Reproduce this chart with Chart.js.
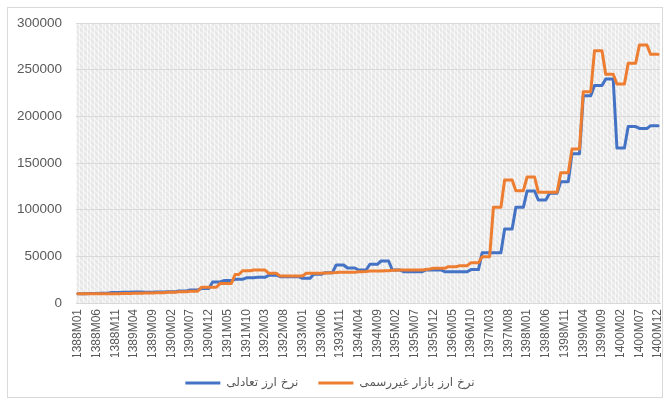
<!DOCTYPE html>
<html>
<head>
<meta charset="utf-8">
<script src="https://cdn.jsdelivr.net/npm/chart.js@4.4.1/dist/chart.umd.min.js"></script>
<style>
  html, body { margin: 0; padding: 0; background: #fff; }
  #wrap { width: 667px; height: 404px; }
</style>
</head>
<body>
<div id="wrap"><canvas id="chart" width="667" height="404"></canvas></div>
<script>
// سال‌ها و ماه‌ها (برچسب محور افقی: 1388M01 ... 1400M12)
const years = [1388, 1389, 1390, 1391, 1392, 1393, 1394, 1395, 1396, 1397, 1398, 1399, 1400];
const months = ["01", "02", "03", "04", "05", "06", "07", "08", "09", "10", "11", "12"];
const labels = [];
for (const y of years) for (const m of months) labels.push(y + "M" + m);

const seriesNames = ["نرخ ارز تعادلی", "نرخ ارز بازار غیررسمی"];

// نرخ ارز تعادلی
const equilibrium = [
  10000, 10000, 10000, 10200, 10200, 10200, 10500, 10500, 10500, 11200, 11200, 11200,
  11500, 11500, 11500, 11800, 11800, 11800, 11500, 11500, 11500, 11700, 11700, 11700,
  12000, 12000, 12000, 12800, 12800, 12800, 14000, 14000, 14000, 15500, 15500, 15500,
  22500, 22500, 22500, 24000, 24000, 24000, 25400, 25400, 25400, 27000, 27000, 27000,
  27500, 27500, 27500, 29800, 29800, 29800, 28200, 28200, 28200, 28200, 28200, 28200,
  26400, 26400, 26400, 30700, 30700, 30700, 32500, 32500, 32500, 40700, 40700, 40700,
  37500, 37500, 37500, 35400, 35400, 35400, 41500, 41500, 41500, 45000, 45000, 45000,
  35400, 35400, 35400, 33500, 33500, 33500, 33500, 33500, 33500, 35400, 35400, 35400,
  35400, 35400, 33500, 33500, 33500, 33500, 33500, 33500, 33500, 35800, 35800, 35800,
  53900, 53900, 53900, 53900, 53900, 53900, 79300, 79300, 79300, 102500, 102500, 102500,
  120000, 120000, 120000, 110400, 110400, 110400, 117500, 117500, 117500, 130000, 130000, 130000,
  160000, 160000, 160000, 222000, 222000, 222000, 233000, 233000, 233000, 240000, 240000, 240000,
  166000, 166000, 166000, 189000, 189000, 189000, 187000, 187000, 187000, 190000, 190000, 190000
];

// نرخ ارز بازار غیررسمی
const informal = [
  10000, 10000, 10000, 10000, 10000, 10000, 10000, 10000, 10000, 10000, 10000, 10000,
  10300, 10300, 10300, 10500, 10500, 10500, 10700, 10700, 10700, 11000, 11000, 11000,
  11500, 11500, 11500, 12000, 12000, 12000, 12500, 12500, 12500, 16800, 16800, 16800,
  16800, 16800, 21000, 21000, 21000, 21000, 30500, 30500, 34500, 34500, 34500, 35300,
  35300, 35300, 35300, 31800, 31800, 31800, 29000, 29000, 29000, 29000, 29000, 29000,
  29000, 31800, 31800, 31800, 32000, 32000, 32200, 32200, 32500, 32700, 33000, 33000,
  33000, 33000, 33000, 33500, 33500, 33800, 34200, 34200, 34200, 34200, 34500, 34500,
  35000, 35000, 35400, 35400, 35400, 35400, 35400, 35400, 35400, 36000, 36500, 37200,
  37200, 37200, 37200, 38900, 38900, 38900, 40000, 40000, 40000, 43200, 43200, 43200,
  49600, 49600, 49600, 102500, 102500, 102500, 131800, 131800, 131800, 120300, 120300, 120300,
  135000, 135000, 135000, 118600, 118600, 118600, 118600, 118600, 118600, 139600, 139600, 139600,
  165000, 165000, 165000, 226400, 226400, 226400, 270400, 270400, 270400, 245000, 245000, 245000,
  234600, 234600, 234600, 256800, 256800, 256800, 276400, 276400, 276400, 266400, 266400, 266400
];

const yTicks = { min: 0, max: 300000, step: 50000 };

// پس‌زمینه هاشور خورده ناحیه نمودار
function makePattern(ctx){
  const p = document.createElement("canvas");
  p.width = 6; p.height = 6;
  const c = p.getContext("2d");
  c.fillStyle = "#e7e7e7";
  c.fillRect(0, 0, 6, 6);
  c.strokeStyle = "#f5f5f5";
  c.lineWidth = 1.3;
  for (const off of [-6, 0, 6]) {
    c.beginPath();
    c.moveTo(off, 0);
    c.lineTo(off + 6, 6);
    c.stroke();
  }
  return ctx.createPattern(p, "repeat");
}

const hatchBg = {
  id: "hatchBg",
  beforeDraw(chart){
    const { ctx, chartArea: a } = chart;
    ctx.save();
    ctx.fillStyle = makePattern(ctx);
    ctx.fillRect(a.left, a.top, a.right - a.left, a.bottom - a.top);
    ctx.restore();
  }
};

const frame = {
  id: "frame",
  afterDraw(chart){
    const ctx = chart.ctx;
    ctx.save();
    ctx.strokeStyle = "#d9d9d9";
    ctx.lineWidth = 1;
    ctx.strokeRect(7.5, 7.5, 655, 390);
    ctx.restore();
  }
};

new Chart(document.getElementById("chart"), {
  type: "line",
  data: {
    labels: labels,
    datasets: [
      {
        label: seriesNames[0],
        data: equilibrium,
        borderColor: "#4472C4",
        backgroundColor: "#4472C4",
        borderWidth: 3,
        pointRadius: 0,
        tension: 0,
        borderJoinStyle: "round",
        borderCapStyle: "round",
        order: 1
      },
      {
        label: seriesNames[1],
        data: informal,
        borderColor: "#ED7D31",
        backgroundColor: "#ED7D31",
        borderWidth: 3,
        pointRadius: 0,
        tension: 0,
        borderJoinStyle: "round",
        borderCapStyle: "round",
        order: 0
      }
    ]
  },
  options: {
    responsive: false,
    animation: false,
    devicePixelRatio: 1,
    layout: { padding: { left: 0, right: 7, top: 23, bottom: 5 } },
    plugins: {
      tooltip: { enabled: false },
      legend: {
        position: "bottom",
        labels: {
          boxWidth: 35,
          boxHeight: 3,
          padding: 20,
          color: "#595959",
          font: { size: 12, family: "'DejaVu Sans', sans-serif" },
          sort: (a, b) => a.datasetIndex - b.datasetIndex,
          generateLabels(chart){
            return Chart.defaults.plugins.legend.labels.generateLabels(chart)
              .map(l => ({ ...l, lineWidth: 0 }));
          }
        }
      }
    },
    scales: {
      x: {
        offset: true,
        grid: { color: "rgba(255,255,255,0.6)", drawTicks: false, offset: true },
        border: { color: "#d9d9d9" },
        ticks: {
          autoSkip: false,
          maxRotation: 90,
          minRotation: 90,
          padding: 6,
          color: "#595959",
          font: { size: 12, family: "'Liberation Sans', Arial, sans-serif" },
          callback(v, i){ return i % 5 === 0 ? this.getLabelForValue(v) : ""; }
        },
        afterFit(s){
          s.height = 54;
          s.paddingLeft = 0;
          s.paddingRight = 0;
        }
      },
      y: {
        min: yTicks.min,
        max: yTicks.max,
        grid: { color: "#d9d9d9", drawTicks: false },
        border: { display: false },
        ticks: {
          stepSize: yTicks.step,
          padding: 14,
          color: "#595959",
          font: { size: 13.5, family: "'Liberation Sans', Arial, sans-serif" },
          callback: v => String(v)
        },
        afterFit(s){ s.width = 76; }
      }
    }
  },
  plugins: [hatchBg, frame]
});
</script>
</body>
</html>
